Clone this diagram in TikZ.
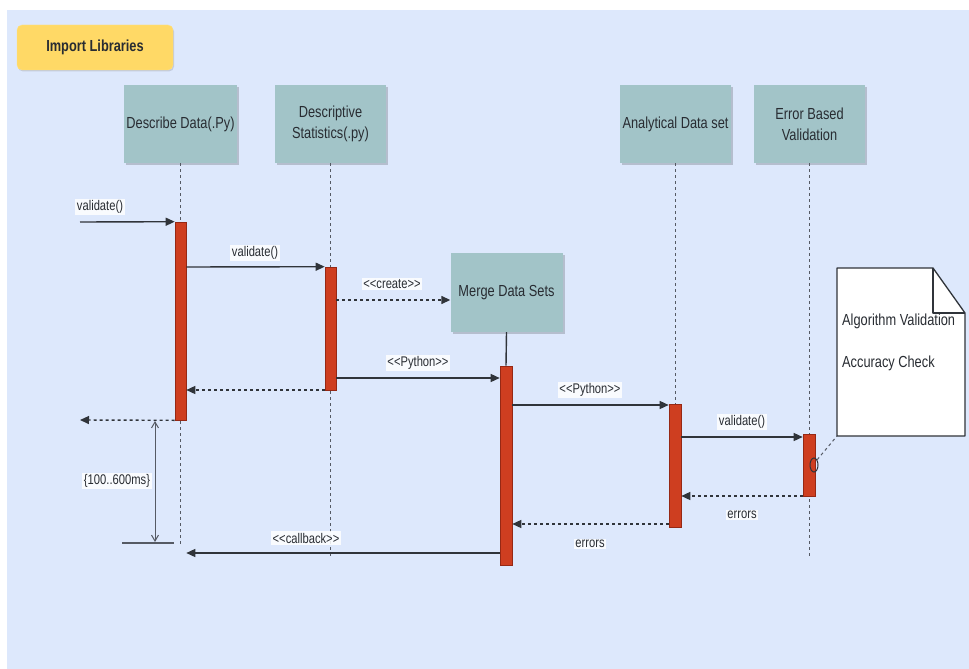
\documentclass[tikz,border=0pt]{standalone}
\usepackage{fontspec}
\setmainfont{Liberation Sans}[FakeStretch=0.8]
\usetikzlibrary{arrows.meta,shadows,shapes.geometric}

\definecolor{bgblue}{RGB}{221,232,252}
\definecolor{partfill}{RGB}{162,196,200}
\definecolor{barred}{RGB}{206,62,32}
\definecolor{barline}{RGB}{150,40,20}
\definecolor{ink}{RGB}{48,52,58}
\definecolor{lifegray}{RGB}{85,90,100}
\definecolor{importfill}{RGB}{255,217,102}
\definecolor{textdark}{RGB}{40,44,50}

\newcommand\dlt{<\kern0pt<}
\newcommand\dgt{>\kern0pt>}

\tikzset{
  participant/.style={rectangle, fill=partfill, draw=none, minimum width=111pt,
    minimum height=78pt, align=center, text=textdark, inner sep=2pt,
    font=\fontsize{16}{21}\selectfont,
    drop shadow={shadow xshift=2pt, shadow yshift=-2pt, fill=black, opacity=0.18}},
  importbox/.style={rectangle, rounded corners=5pt, fill=importfill, draw=importfill!80!white,
    minimum width=156pt, minimum height=45pt, text=textdark,
    font=\fontsize{16}{20}\selectfont\bfseries,
    drop shadow={shadow xshift=1pt, shadow yshift=-1.5pt, fill=black, opacity=0.12}},
  actbar/.style={rectangle, fill=barred, draw=barline, line width=0.6pt,
    minimum width=11pt, inner sep=0pt},
  lifeline/.style={draw=lifegray, line width=1pt, dash pattern=on 3pt off 3pt},
  msg/.style={draw=ink, line width=1.4pt, -{Triangle[length=9pt,width=8pt]}},
  reply/.style={msg, dash pattern=on 3pt off 3pt},
  lbl/.style={fill=white, fill opacity=0.85, text opacity=1, inner sep=1.5pt,
    text=textdark, font=\fontsize{14}{16}\selectfont},
  notetext/.style={text=textdark, inner sep=0pt, font=\fontsize{16}{18}\selectfont},
}

\begin{document}
\begin{tikzpicture}[x=1pt,y=-1pt]
\useasboundingbox (0,0) rectangle (969,669);
\fill[white] (0,0) rectangle (969,669);
\fill[bgblue] (7,10) rectangle (969,669);

% header
\node[importbox] (imp) at (95,47.5) {Import Libraries};

% participants
\node[participant] (dd) at (180.5,124) {Describe Data(.Py)};
\node[participant] (ds) at (330.5,124) {Descriptive\\Statistics(.py)};
\node[participant] (ad) at (675.5,124) {Analytical Data set};
\node[participant] (eb) at (809.5,124) {Error Based\\Validation};
\node[participant, minimum width=112pt, minimum height=79pt] (md) at (506.5,292.5) {Merge Data Sets};

% lifeline ends
\coordinate (ddend) at (180.5,545);
\coordinate (dsend) at (330.5,558);
\coordinate (adend) at (675.5,404);
\coordinate (ebend) at (809.5,556);

\draw[lifeline] (dd.south) -- (ddend);
\draw[lifeline] (ds.south) -- (dsend);
\draw[lifeline] (ad.south) -- (adend);
\draw[lifeline] (eb.south) -- (ebend);

% activation bars
\node[actbar, minimum height=198pt] (b1) at (180.5,321) {};
\node[actbar, minimum height=123pt] (b2) at (330.5,328.5) {};
\node[actbar, minimum width=12pt, minimum height=199pt] (b3) at (506,465.5) {};
\node[actbar, minimum width=12pt, minimum height=123pt] (b4) at (675,465.5) {};
\node[actbar, minimum width=12pt, minimum height=62pt] (b5) at (809,465) {};

\draw[draw=ink, line width=1.4pt] (md.south) -- (b3.north);

% messages
\coordinate (callin) at (80,222);
\coordinate (callout) at (80,420);
\draw[msg] (callin) -- (b1.north west);
\draw[msg] (b1.east |- 0,267) -- (b2.north west);
\draw[reply] (b2.east |- 0,300) -- (md.west |- 0,300);
\draw[msg] (b2.east |- 0,378) -- (b3.west |- 0,378);
\draw[reply] (b2.west |- 0,390) -- (b1.east |- 0,390);
\draw[reply] (b1.south west) -- (callout);
\draw[msg] (b3.west |- 0,553) -- (b1.east |- 0,553);
\draw[msg] (b3.east |- 0,405) -- (b4.west |- 0,405);
\draw[msg] (b4.east |- 0,437) -- (b5.west |- 0,437);
\draw[reply] (b5.west |- 0,496) -- (b4.east |- 0,496);
\draw[reply] (b4.west |- 0,524) -- (b3.east |- 0,524);

% duration constraint
\coordinate (durtop) at (155,421);
\coordinate (durbot) at (155,542);
\coordinate (barl) at (122,543);
\coordinate (barr) at (174,543);
\draw[draw=lifegray, line width=1pt, {Straight Barb[length=6pt,width=7pt]}-{Straight Barb[length=6pt,width=7pt]}] (durtop) -- (durbot);
\draw[draw=lifegray, line width=2pt] (barl) -- (barr);

% message labels
\node[lbl] (l1) at (100,207) {validate()};
\node[lbl] (l2) at (255,253) {validate()};
\node[lbl] (l3) at (392,284) {\dlt create\dgt};
\node[lbl] (l4) at (418,363) {\dlt Python\dgt};
\node[lbl] (l5) at (117,481) {\{100..600ms\}};
\node[lbl] (l6) at (306,538) {\dlt callback\dgt};
\node[lbl] (l7) at (590,390) {\dlt Python\dgt};
\node[lbl] (l8) at (742,422) {validate()};
\node[lbl] (l9) at (742,515) {errors};
\node[lbl] (l10) at (590,544) {errors};

% note with folded corner
\draw[draw=ink, line width=1.3pt, fill=white, line join=round]
  (837,268) -- (933,268) -- (965,313) -- (965,436) -- (837,436) -- cycle;
\draw[draw=ink, line width=1.3pt, line join=round] (933,268) -- (933,313) -- (965,313);
\coordinate (notebl) at (837,436);
\node[notetext, anchor=base west] (nt1) at (842,325) {Algorithm Validation};
\node[notetext, anchor=base west] (nt2) at (842,367) {Accuracy Check};

% anchor circle on the validation bar
\node[ellipse, draw=ink, line width=1pt, minimum width=8pt, minimum height=14pt, inner sep=0pt] (anc) at (814,465) {};
\draw[draw=lifegray, line width=1pt, dash pattern=on 3pt off 3pt] (anc.north east) -- (notebl);
\end{tikzpicture}
\end{document}
